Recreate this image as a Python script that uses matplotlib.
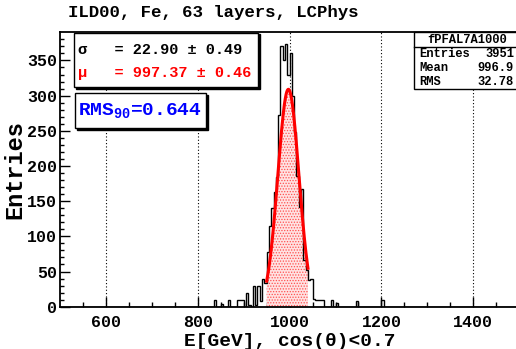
import numpy as np
import matplotlib
matplotlib.use("Agg")
import matplotlib.pyplot as plt
from matplotlib.patches import Rectangle

# ---------- data ----------
# histogram: 5 GeV bins from 500 to 1500, only non-empty bins listed
bin_width = 5
x_min, x_max = 500, 1500
bin_lo = [835, 850, 865, 885, 890, 895, 905, 910, 920, 925, 930, 935, 940, 945,
          950, 955, 960, 965, 970, 975, 980, 985, 990, 995, 1000, 1005, 1010,
          1015, 1020, 1025, 1030, 1035, 1040, 1045, 1050, 1055, 1060, 1065,
          1070, 1090, 1100, 1145, 1200]
bin_counts = [9, 4, 9, 9, 9, 9, 19, 3, 30, 3, 30, 8, 40, 33,
              78, 114, 140, 163, 184, 272, 370, 350, 374, 330, 360, 300, 249,
              186, 141, 167, 66, 52, 38, 40, 11, 10, 10, 10,
              10, 10, 5, 8, 9]

# gaussian fit
fit_amp = 309.0
fit_mu = 997.37
fit_sigma = 22.90
fit_range = (950, 1040)

x_ticks = [600, 800, 1000, 1200, 1400]
y_ticks = [0, 50, 100, 150, 200, 250, 300, 350]
y_max = 390

stats_name = "fPFAL7A1000"
stats_rows = [("Entries", "3951"), ("Mean", "996.9"), ("RMS", "32.78")]

# ---------- figure ----------
W, H = 516, 349
font = "Liberation Mono"
plt.rcParams["font.family"] = [font, "DejaVu Sans"]
plt.rcParams["font.weight"] = "bold"
plt.rcParams["mathtext.fontset"] = "custom"
plt.rcParams["mathtext.rm"] = "Liberation Mono:bold"
plt.rcParams["mathtext.it"] = "Liberation Mono:bold"
plt.rcParams["mathtext.bf"] = "Liberation Mono:bold"
plt.rcParams["hatch.linewidth"] = 0.6


def fx(x):
    return x / W


def fy(y):
    return 1 - y / H


fig = plt.figure(figsize=(W / 100, H / 100), dpi=100)
ax_l, ax_r, ax_t, ax_b = 60, 519.2, 32.3, 306.7
ax = fig.add_axes([fx(ax_l), fy(ax_b), (ax_r - ax_l) / W, (ax_b - ax_t) / H])

edges = np.arange(x_min, x_max + bin_width, bin_width)
counts = np.zeros(len(edges) - 1)
for lo, c in zip(bin_lo, bin_counts):
    counts[(lo - x_min) // bin_width] = c

# fit area and curve
xf = np.linspace(fit_range[0], fit_range[1], 300)
yf = fit_amp * np.exp(-0.5 * ((xf - fit_mu) / fit_sigma) ** 2)
ax.fill_between(xf, 0, yf, facecolor="#ffe2e2", edgecolor="#ff5050",
                hatch="......", lw=0, zorder=2)
ax.stairs(counts, edges, color="black", lw=1.0, zorder=3)
ax.plot(xf, yf, color="red", lw=2.2, zorder=4)

# grid on x only
for xt in x_ticks:
    ax.axvline(xt, color="black", lw=0.8, ls=(0, (1, 2)), zorder=1)

ax.set_xlim(x_min, x_max)
ax.set_ylim(0, y_max)
ax.set_xticks(x_ticks)
ax.set_xticks(np.arange(550, 1500, 50), minor=True)
ax.set_yticks(y_ticks)
ax.set_yticks(np.arange(0, y_max, 10), minor=True)
ax.tick_params(axis="both", which="both", direction="in", labelsize=12,
               width=1.0, top=False, right=False)
ax.tick_params(axis="x", which="major", length=7, pad=6)
ax.tick_params(axis="x", which="minor", length=3.6)
ax.tick_params(axis="y", which="major", length=7, pad=2)
ax.tick_params(axis="y", which="minor", length=3.2)
for s in ax.spines.values():
    s.set_linewidth(1.3)

ax.set_xlabel("E[GeV], cos(θ)<0.7", fontsize=14, fontweight="bold")
ax.xaxis.set_label_coords(0.5, -(341 - ax_b) / (ax_b - ax_t))
ax.xaxis.label.set_va("center")
ax.set_ylabel("Entries", fontsize=17, fontweight="bold")
ax.yaxis.set_label_coords((15 - ax_l) / (ax_r - ax_l), 0.5)
ax.yaxis.label.set_va("center")

fig.text(fx(68), fy(13), "ILD00, Fe, 63 layers, LCPhys", fontsize=12.5,
         fontweight="bold", va="center", ha="left")


def box(x0, y0, x1, y1, shadow=True):
    if shadow:
        fig.patches.append(Rectangle((fx(x0 + 1.5), fy(y1 + 1.5)),
                                     (x1 - x0) / W, (y1 - y0) / H,
                                     transform=fig.transFigure,
                                     facecolor="black", edgecolor="black",
                                     lw=1, zorder=5))
    fig.patches.append(Rectangle((fx(x0), fy(y1)), (x1 - x0) / W, (y1 - y0) / H,
                                 transform=fig.transFigure, facecolor="white",
                                 edgecolor="black", lw=1, zorder=6))


# fit box
box(74, 33, 258, 87)
fig.text(fx(78), fy(50), "σ   = %.2f ± 0.49" % fit_sigma, fontsize=11,
         fontweight="bold", va="center", color="black", zorder=7)
fig.text(fx(78), fy(73), "μ   = %.2f ± 0.46" % fit_mu, fontsize=11,
         fontweight="bold", va="center", color="red", zorder=7)

# RMS90 box
box(75, 93, 206, 128)
fig.text(fx(78), fy(111), "RMS$_{90}$=0.644", fontsize=14, fontweight="bold",
         va="center", color="blue", zorder=7)

# stats box
box(414, 32, 520, 89, shadow=False)
fig.add_artist(plt.Line2D([fx(414), fx(520)], [fy(47), fy(47)],
                          transform=fig.transFigure, color="black", lw=1,
                          zorder=7))
fig.text(fx(467), fy(40), stats_name, fontsize=8.7, fontweight="bold",
         ha="center", va="center", zorder=7)
for i, (k, v) in enumerate(stats_rows):
    yy = 54 + 14 * i
    fig.text(fx(419), fy(yy), k, fontsize=8.7, fontweight="bold",
             ha="left", va="center", zorder=7)
    fig.text(fx(514), fy(yy), v, fontsize=8.7, fontweight="bold",
             ha="right", va="center", zorder=7)

fig.savefig("out.png", dpi=100)
